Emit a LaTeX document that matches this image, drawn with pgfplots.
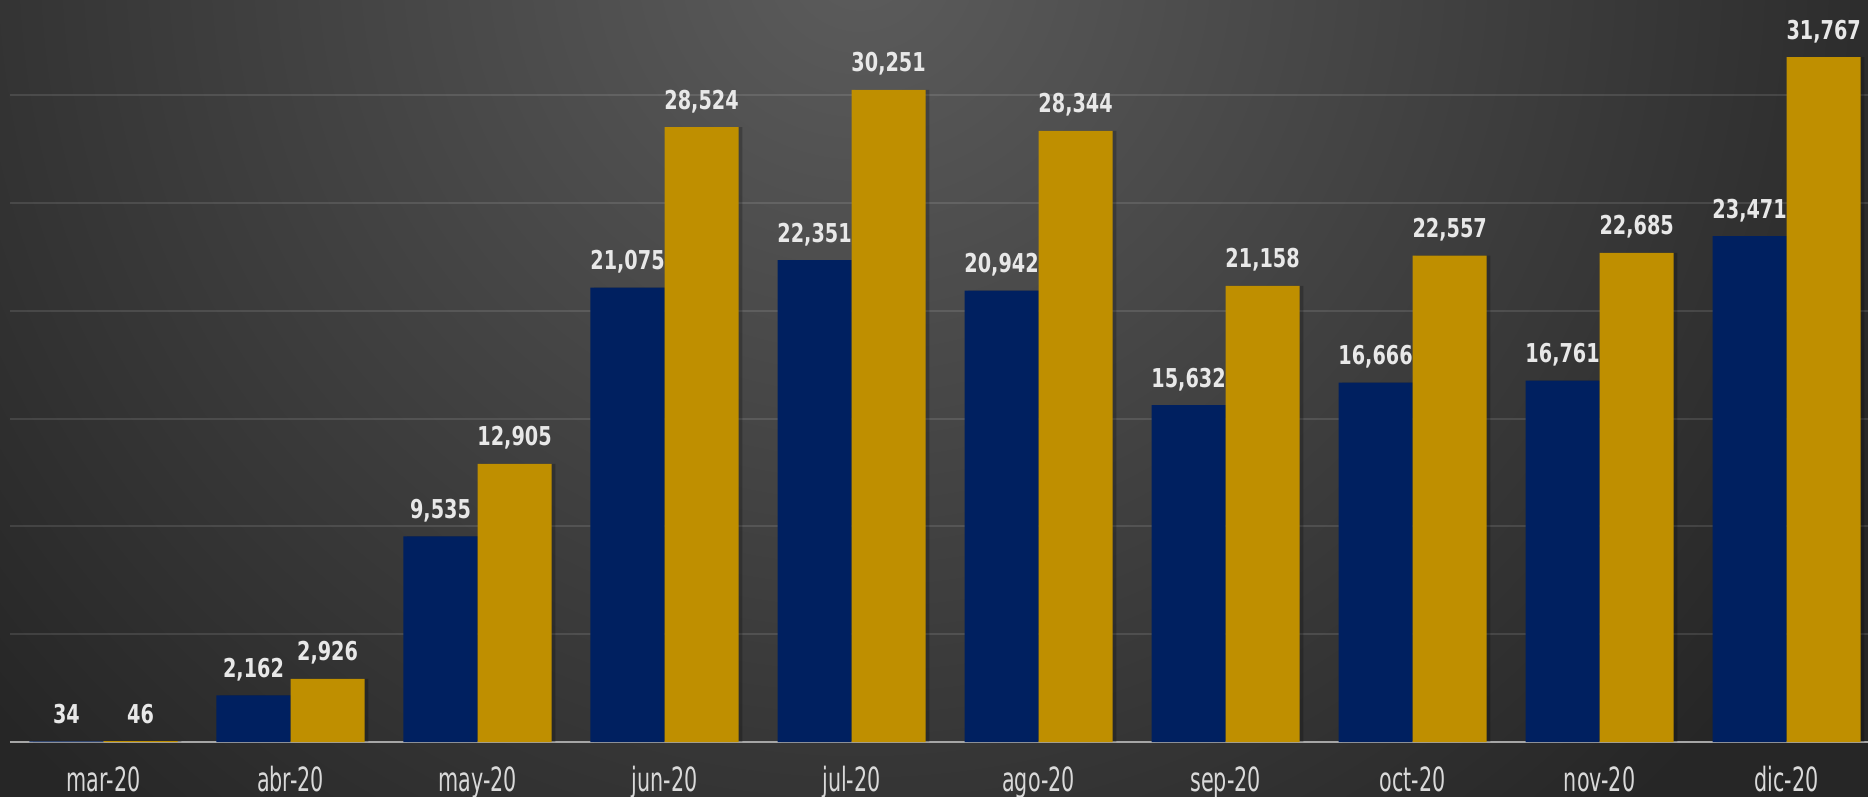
\documentclass[border=0pt]{standalone}
\usepackage{pgfplots}
\pgfplotsset{compat=1.18}
\usepackage{fontspec}
\setmainfont{DejaVu Sans}[FakeStretch=0.74]
\newfontfamily\tickfont{DejaVu Sans}[FakeStretch=0.62]
\definecolor{navy}{RGB}{0,32,96}
\definecolor{gold}{RGB}{191,143,0}
\definecolor{bgdark}{RGB}{38,38,38}
\definecolor{bglight}{RGB}{92,92,92}
\definecolor{lbl}{RGB}{232,232,232}
\definecolor{ticklbl}{RGB}{217,217,217}
\definecolor{basegray}{RGB}{166,166,166}

\pgfplotstableread{
x blue gold
0 34 46
1 2162 2926
2 9535 12905
3 21075 28524
4 22351 30251
5 20942 28344
6 15632 21158
7 16666 22557
8 16761 22685
9 23471 31767
}\monthly

\begin{document}
\begin{tikzpicture}
    % background
    \begin{scope}
        \clip (0,0) rectangle (18.68,7.97);
        \fill[bgdark] (0,0) rectangle (18.68,7.97);
        \shade[inner color=bglight, outer color=bgdark] (8.6,8.4) circle (11.5cm);
    \end{scope}
    \begin{axis}[
        at={(0.10cm,0.55cm)},
        anchor=south west,
        scale only axis,
        width=18.58cm,
        height=7.42cm,
        xmin=-0.5, xmax=9.435,
        ymin=0, ymax=34420,
        clip=false,
        axis x line*=bottom,
        axis y line*=left,
        x axis line style={basegray, line width=0.7pt, -},
        y axis line style={draw=none},
        xtick={0,...,9},
        xticklabels={mar-20,abr-20,may-20,jun-20,jul-20,ago-20,sep-20,oct-20,nov-20,dic-20},
        x tick label style={font=\tickfont\fontsize{9.5}{10}\selectfont, text=ticklbl, anchor=base, yshift=-0.5cm},
        major tick length=0pt,
        tick style={draw=none},
        ytick={5000,10000,...,30000},
        yticklabel=\empty,
        scaled y ticks=false,
        ymajorgrids,
        grid style={white, opacity=0.11, line width=0.6pt},
        ybar,
        bar width=0.396,
        label style/.style={
            nodes near coords,
            every node near coord/.append style={
                font=\bfseries\fontsize{7.4}{8}\selectfont, text=lbl,
                anchor=base, yshift=0.18cm, inner sep=0pt,
                /pgf/number format/.cd, fixed, precision=0, 1000 sep={,}, assume math mode=true,
            },
        },
    ]
        % soft shadows
        \addplot[draw=none, fill=black, fill opacity=0.22, bar shift=-0.178] table[x=x, y=blue] {\monthly};
        \addplot[draw=none, fill=black, fill opacity=0.22, bar shift=0.218] table[x=x, y=gold] {\monthly};
        % bars
        \addplot[draw=none, fill=navy, bar shift=-0.198, label style] table[x=x, y=blue] {\monthly};
        \addplot[draw=none, fill=gold, bar shift=0.198, label style] table[x=x, y=gold] {\monthly};
    \end{axis}
    \pgfresetboundingbox
    \path[use as bounding box] (0,0) rectangle (18.68,7.97);
\end{tikzpicture}
\end{document}
